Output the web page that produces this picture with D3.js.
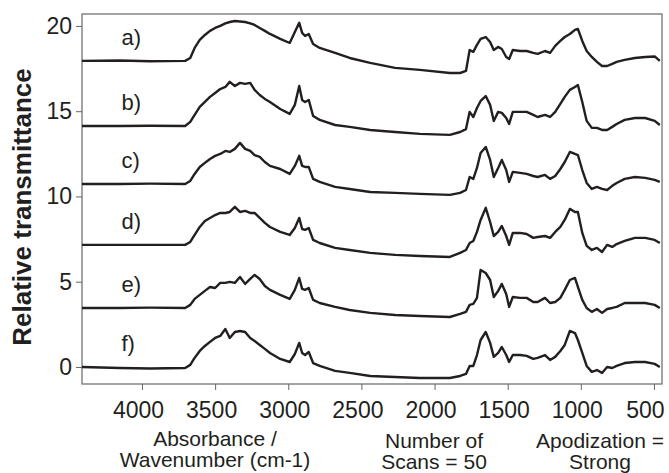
<!DOCTYPE html>
<html>
<head>
<meta charset="utf-8">
<script src="https://cdn.jsdelivr.net/npm/d3@7"></script>
<style>
  body { margin: 0; background: #fff; }
  text { font-family: Arial, "Liberation Sans", sans-serif; fill: #231f20; }
</style>
</head>
<body>
<div id="chart"></div>
<script>
const W = 669, H = 473;
const margin = { top: 14, right: 7, bottom: 89, left: 82 };
const width = W - margin.left - margin.right;
const height = H - margin.top - margin.bottom;

// shared wavenumber grid (cm-1)
const wavenumbers = [
  4410, 4150, 3945, 3705, 3670, 3640, 3605, 3570, 3535, 3500,
  3465, 3430, 3400, 3365, 3330, 3295, 3260, 3230, 3195, 3160,
  3125, 3055, 2990, 2955, 2925, 2905, 2885, 2860, 2830, 2785,
  2680, 2580, 2440, 2270, 2100, 1895, 1825, 1785, 1760, 1735,
  1710, 1685, 1650, 1620, 1595, 1565, 1540, 1510, 1490, 1465,
  1415, 1370, 1325, 1295, 1245, 1210, 1175, 1140, 1110, 1075,
  1040, 1020, 990, 960, 925, 890, 855, 820, 785, 755,
  700, 630, 560, 495, 460
];

const seriesA = [
  17.95, 17.97, 17.93, 17.95, 18.12, 18.71, 19.18, 19.47, 19.71, 19.88,
  20.00, 20.15, 20.23, 20.29, 20.26, 20.23, 20.15, 20.06, 19.88, 19.71,
  19.53, 19.24, 19.00, 19.65, 20.18, 19.59, 19.41, 19.53, 18.94, 18.71,
  18.42, 18.12, 17.83, 17.54, 17.42, 17.24, 17.24, 17.36, 18.59, 18.48,
  18.89, 19.24, 19.35, 19.06, 18.59, 18.77, 18.65, 18.18, 18.06, 18.59,
  18.53, 18.53, 18.42, 18.36, 18.53, 18.42, 18.83, 19.12, 19.35, 19.53,
  19.77, 19.82, 19.12, 18.53, 18.18, 17.89, 17.65, 17.65, 17.77, 17.89,
  18.01, 18.12, 18.18, 18.21, 17.95
];
const seriesB = [
  14.13, 14.13, 14.15, 14.13, 14.37, 14.78, 15.25, 15.54, 15.84, 16.07,
  16.30, 16.42, 16.72, 16.48, 16.66, 16.60, 16.66, 16.25, 15.95, 15.72,
  15.54, 15.13, 14.84, 15.37, 16.48, 15.66, 15.54, 15.66, 14.72, 14.49,
  14.19, 14.08, 13.90, 13.78, 13.67, 13.61, 13.78, 13.95, 14.96, 14.66,
  15.19, 15.60, 15.89, 15.37, 14.43, 14.96, 14.90, 14.60, 14.25, 14.96,
  14.96, 14.96, 14.78, 14.66, 14.78, 14.66, 14.96, 15.43, 15.84, 16.25,
  16.42, 16.54, 15.54, 14.43, 14.02, 14.02, 13.90, 13.90, 14.08, 14.25,
  14.49, 14.60, 14.60, 14.43, 14.19
];
const seriesC = [
  10.73, 10.73, 10.75, 10.73, 10.91, 11.32, 11.73, 11.97, 12.20, 12.38,
  12.49, 12.67, 12.61, 12.79, 13.14, 12.79, 12.67, 12.43, 12.32, 12.02,
  11.79, 11.61, 11.32, 11.79, 12.38, 11.79, 11.73, 11.73, 11.03, 10.85,
  10.56, 10.44, 10.26, 10.21, 10.15, 10.09, 10.21, 10.38, 11.14, 11.03,
  11.67, 12.55, 12.90, 12.14, 11.14, 11.67, 12.14, 11.55, 10.85, 11.44,
  11.38, 11.32, 11.20, 11.14, 11.26, 11.03, 11.20, 11.61, 12.02, 12.61,
  12.49, 12.43, 11.55, 10.79, 10.44, 10.56, 10.44, 10.38, 10.62, 10.79,
  11.03, 11.14, 11.09, 10.97, 10.85
];
const seriesD = [
  7.16, 7.16, 7.16, 7.16, 7.33, 7.74, 8.21, 8.56, 8.74, 8.91,
  9.03, 9.03, 9.09, 9.39, 9.09, 9.15, 9.03, 9.03, 8.74, 8.45,
  8.21, 7.92, 7.74, 8.15, 8.74, 8.09, 8.04, 8.15, 7.45, 7.27,
  6.98, 6.86, 6.69, 6.57, 6.51, 6.45, 6.69, 6.86, 7.27, 7.39,
  7.92, 8.62, 9.33, 8.50, 7.68, 7.92, 8.27, 7.68, 7.16, 7.86,
  7.86, 7.80, 7.57, 7.62, 7.68, 7.57, 7.92, 8.21, 8.62, 9.27,
  9.09, 9.09, 7.86, 7.10, 6.86, 6.98, 6.74, 7.16, 7.04, 7.21,
  7.39, 7.57, 7.57, 7.45, 7.27
];
const seriesE = [
  3.46, 3.46, 3.48, 3.46, 3.64, 3.99, 4.23, 4.46, 4.69, 4.63,
  4.93, 4.93, 4.99, 4.93, 5.28, 4.87, 5.16, 5.40, 5.16, 4.75,
  4.52, 4.23, 3.99, 4.52, 5.22, 4.58, 4.52, 4.63, 3.93, 3.75,
  3.52, 3.34, 3.17, 3.05, 2.99, 2.93, 3.11, 3.23, 3.64, 3.70,
  4.05, 5.69, 5.51, 5.10, 4.10, 4.46, 4.87, 4.28, 3.52, 4.10,
  4.05, 4.05, 3.81, 3.81, 4.05, 3.75, 3.81, 4.05, 4.52, 5.10,
  5.22, 4.69, 3.93, 3.46, 3.23, 3.40, 3.17, 3.40, 3.46, 3.52,
  3.75, 3.75, 3.75, 3.64, 3.46
];
const seriesF = [
  0.00, -0.06, -0.09, -0.06, 0.12, 0.53, 0.94, 1.23, 1.47, 1.70,
  1.82, 2.23, 1.70, 2.05, 2.11, 2.05, 1.70, 1.52, 1.29, 1.06,
  0.82, 0.47, 0.29, 0.76, 1.41, 0.82, 0.70, 0.88, 0.23, 0.06,
  -0.23, -0.35, -0.53, -0.59, -0.65, -0.65, -0.53, -0.41, 0.06, 0.06,
  0.70, 1.58, 2.05, 1.41, 0.59, 0.82, 1.17, 0.70, 0.29, 0.70,
  0.70, 0.65, 0.47, 0.53, 0.70, 0.41, 0.59, 0.94, 1.29, 2.11,
  1.99, 1.58, 0.82, 0.06, -0.29, -0.18, -0.35, 0.00, -0.06, 0.06,
  0.23, 0.29, 0.29, 0.18, 0.00
];

const seriesLabels = ["a)", "b)", "c)", "d)", "e)", "f)"];
const allSeries = [seriesA, seriesB, seriesC, seriesD, seriesE, seriesF];
const xTicks = [4000, 3500, 3000, 2500, 2000, 1500, 1000, 500];
const yTicks = [0, 5, 10, 15, 20];

const svg = d3.select("#chart")
  .append("svg")
  .attr("width", W)
  .attr("height", H);

const chart = svg.append("g")
  .attr("transform", `translate(${margin.left},${margin.top})`);

const xScale = d3.scaleLinear()
  .domain([4410, 445])
  .range([0, width]);

const yScale = d3.scaleLinear()
  .domain([-1, 20.7])
  .range([height, 0]);

const xAxis = chart.append("g")
  .attr("transform", `translate(0,${height})`)
  .call(d3.axisBottom(xScale).tickValues(xTicks).tickFormat(d3.format("d")).tickSize(6).tickPadding(12));

const yAxis = chart.append("g")
  .call(d3.axisLeft(yScale).tickValues(yTicks).tickSize(6).tickPadding(4));

[xAxis, yAxis].forEach(ax => {
  ax.select(".domain").remove();
  ax.selectAll(".tick line").attr("stroke", "#666");
  ax.selectAll(".tick text")
    .attr("fill", "#231f20")
    .style("font-size", "23px")
    .style("font-family", "Arial, 'Liberation Sans', sans-serif");
});

// labels sit a little left of their ticks in the original
xAxis.selectAll(".tick text")
  .attr("dx", d => d === 500 ? -9 : -4);

chart.append("rect")
  .attr("width", width)
  .attr("height", height)
  .attr("fill", "none")
  .attr("stroke", "#666")
  .attr("stroke-width", 1.2);

const line = d3.line()
  .x((d, i) => xScale(wavenumbers[i]))
  .y(d => yScale(d));

chart.selectAll(".spectrum")
  .data(allSeries)
  .join("path")
  .attr("class", "spectrum")
  .attr("d", line)
  .attr("fill", "none")
  .attr("stroke", "#231f20")
  .attr("stroke-width", 2.4)
  .attr("stroke-linejoin", "round");

chart.selectAll(".series-label")
  .data(allSeries)
  .join("text")
  .attr("class", "series-label")
  .attr("x", xScale(4140))
  .attr("y", d => yScale(d[0]) - 16)
  .style("font-size", "22px")
  .text((d, i) => seriesLabels[i]);

svg.append("text")
  .attr("transform", "rotate(-90)")
  .attr("x", -207)
  .attr("y", 31)
  .attr("text-anchor", "middle")
  .style("font-size", "26px")
  .style("font-weight", "bold")
  .text("Relative transmittance");

const footer = [
  { x: 215, y: 446, lines: ["Absorbance /", "Wavenumber (cm-1)"] },
  { x: 434, y: 448, lines: ["Number of", "Scans = 50"] },
  { x: 600, y: 448, lines: ["Apodization =", "Strong"] }
];

footer.forEach(f => {
  f.lines.forEach((t, i) => {
    svg.append("text")
      .attr("x", f.x)
      .attr("y", f.y + i * 21)
      .attr("text-anchor", "middle")
      .style("font-size", "21px")
      .text(t);
  });
});
</script>
</body>
</html>
